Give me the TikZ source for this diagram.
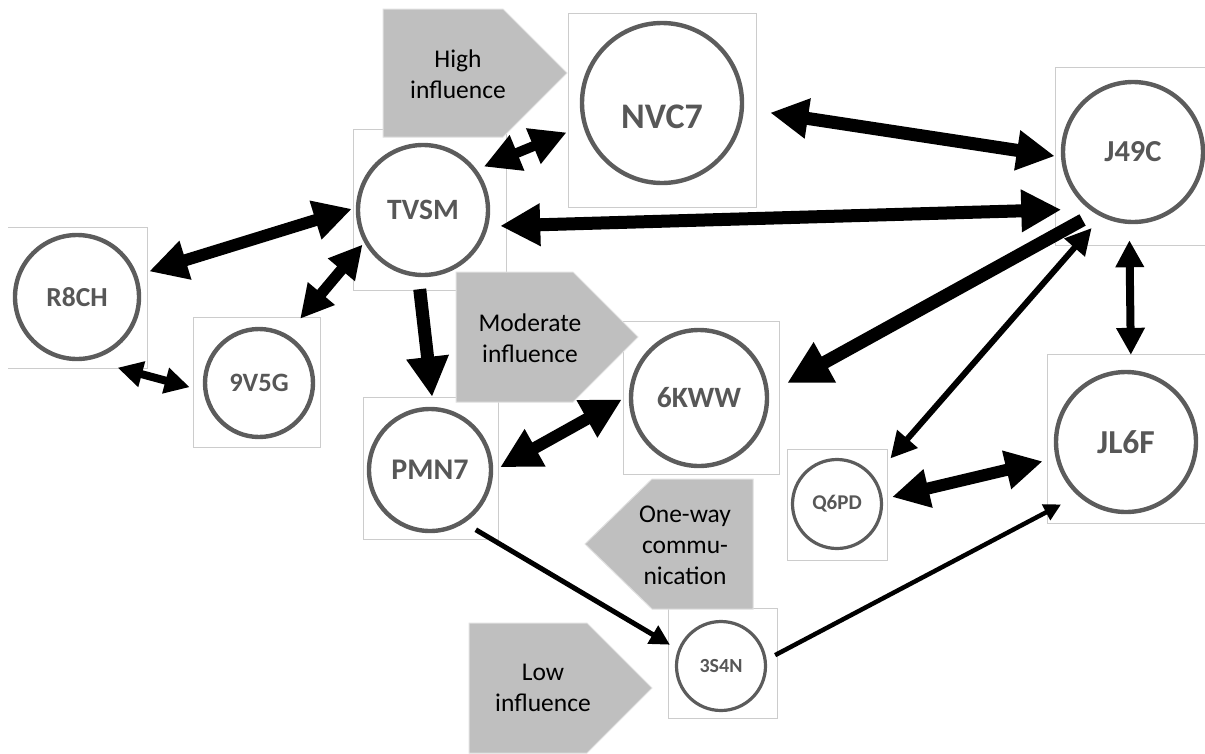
\documentclass[tikz,border=0pt]{standalone}
\usepackage{fontspec}
\setmainfont{Carlito}
\usetikzlibrary{arrows.meta}
\begin{document}
\begin{tikzpicture}[x=1pt,y=-1pt,
  framecolor/.style={draw=black!20, line width=1pt},
  frame/.style={framecolor, inner sep=0pt, outer sep=0pt},
  person/.style={circle, draw=black!64, line width=4.4pt, inner sep=0pt, outer sep=2.2pt, text=black!66},
  smallperson/.style={person, line width=3.2pt, outer sep=1.6pt},
  tag/.style={fill=black!25, draw=black!12, line width=1pt},
  tagtext/.style={align=center, font=\fontsize{25.5}{31}\selectfont, text=black},
  dbl/.style 2 args={line width=#1, >={Triangle[length=#2,width=#2]}, <->},
  one/.style 2 args={line width=#1, >={Triangle[length=#2,width=#2]}, ->}]
\useasboundingbox (0,0) rectangle (1205,753);

% picture frames around the people
\node[frame, minimum width=188pt, minimum height=194pt] (nvc7box) at (662,110) {};
\node[frame, minimum width=153pt, minimum height=161pt] (tvsmbox) at (429.5,209.5) {};
\node[inner sep=0pt, outer sep=0pt, minimum width=139pt, minimum height=141pt] (r8chbox) at (77.5,297.5) {};
\draw[framecolor] (r8chbox.north west) -- (r8chbox.north east) -- (r8chbox.south east) -- (r8chbox.south west);
\node[frame, minimum width=127pt, minimum height=130pt] (n9v5gbox) at (256.5,382) {};
\node[frame, minimum width=135pt, minimum height=142pt] (pmn7box) at (430.5,468) {};
\node[frame, minimum width=156pt, minimum height=153pt] (n6kwwbox) at (701,397.5) {};
\node[frame, minimum width=150pt, minimum height=178pt] (j49cbox) at (1130,156) {};
\node[frame, minimum width=158pt, minimum height=169pt] (jl6fbox) at (1126,438.5) {};
\node[frame, minimum width=100pt, minimum height=111pt] (q6pdbox) at (837,504.5) {};
\node[frame, minimum width=109pt, minimum height=110pt] (n3s4nbox) at (722.5,663) {};

% people
\node[person, minimum size=160pt, font=\bfseries\fontsize{36}{40}\selectfont] (nvc7) at (662,103) {\raisebox{-25pt}[0pt][0pt]{NVC7}};
\node[person, minimum size=130pt, font=\bfseries\fontsize{29.5}{34}\selectfont] (tvsm) at (423,210) {TVSM};
\node[person, minimum size=124pt, font=\bfseries\fontsize{27.5}{32}\selectfont] (r8ch) at (77,297) {R8CH};
\node[person, minimum size=108pt, font=\bfseries\fontsize{26.5}{31}\selectfont] (n9v5g) at (259,383) {9V5G};
\node[person, minimum size=122pt, font=\bfseries\fontsize{30}{35}\selectfont] (pmn7) at (430,470) {PMN7};
\node[person, minimum size=136pt, font=\bfseries\fontsize{29.5}{34}\selectfont] (n6kww) at (699,398) {6KWW};
\node[person, minimum size=140pt, font=\bfseries\fontsize{30.5}{35}\selectfont] (j49c) at (1133,152) {J49C};
\node[person, minimum size=140pt, font=\bfseries\fontsize{33.5}{38}\selectfont] (jl6f) at (1126,442) {JL6F};
\node[smallperson, minimum size=89pt, font=\bfseries\fontsize{21}{25}\selectfont] (q6pd) at (837,504) {Q6PD};
\node[smallperson, minimum size=89pt, font=\bfseries\fontsize{20}{24}\selectfont] (n3s4n) at (721,666) {3S4N};

% legend tags
\path[tag] (383,9) -- (503,9) -- (567,73) -- (503,137) -- (383,137) -- cycle;
\node[tagtext] (high) at (458,74) {High\\influence};
\path[tag] (456,272) -- (573,272) -- (638,337) -- (573,402) -- (456,402) -- cycle;
\node[tagtext] (moderate) at (530,338) {Moderate\\influence};
\path[tag] (753,479) -- (652,479) -- (585,544) -- (652,609) -- (753,609) -- cycle;
\node[tagtext] (oneway) at (685,545) {One-way\\commu-\\nication};
\path[tag] (469,623) -- (587,623) -- (652,688) -- (587,753) -- (469,753) -- cycle;
\node[tagtext] (low) at (543,688) {Low\\influence};

% relations
\draw[dbl={13pt}{38pt}, shorten <=26.5pt, shorten >=6.3pt] (nvc7.-4.2) -- (j49c.184.8);
\draw[dbl={13pt}{40pt}, shorten <=12pt, shorten >=27.3pt] (tvsm.-14.1) -- (j49c.232.6);
\draw[dbl={10pt}{36pt}, shorten <=7.7pt, shorten >=17.7pt] (tvsm.37.8) -- (nvc7.196.6);
\draw[dbl={12pt}{38pt}, shorten <=12.4pt, shorten >=4.2pt] (r8ch.20.2) -- (tvsm.178.1);
\draw[dbl={11pt}{33pt}, shorten <=20.3pt, shorten >=2.6pt] (n9v5g.60.3) -- (tvsm.209.5);
\draw[dbl={8pt}{25pt}, shorten <=29.4pt, shorten >=14.1pt] (r8ch.-79.1) -- (n9v5g.188.1);
\draw[one={13pt}{40pt}, shorten <=12.2pt, shorten >=10.1pt] (tvsm.266.3) -- (pmn7.87.2);
\draw[dbl={12pt}{40pt}, shorten <=8pt, shorten >=8pt] (pmn7.-1.7) -- (n6kww.178.4);
\draw[one={13pt}{43pt}, shorten <=13.9pt, shorten >=20.75pt] (j49c.238.3) -- (n6kww.4.1);
\draw[dbl={6pt}{26pt}, shorten <=24.5pt, shorten >=14.8pt] (q6pd.36.9) -- (j49c.244.3);
\draw[dbl={8pt}{27pt}, shorten <=16.1pt, shorten >=15.1pt] (j49c.267.6) -- (jl6f.86.8);
\draw[dbl={12pt}{37pt}, shorten <=9.5pt, shorten >=13.4pt] (q6pd.6.1) -- (jl6f.193.7);
\draw[one={5pt}{20pt}, shorten <=13.2pt, shorten >=9.3pt] (pmn7.-57.8) -- (n3s4n.159.2);
\draw[one={4.5pt}{17pt}, shorten <=9.6pt, shorten >=18.8pt] (n3s4n.8.3) -- (jl6f.228.9);
\end{tikzpicture}
\end{document}
